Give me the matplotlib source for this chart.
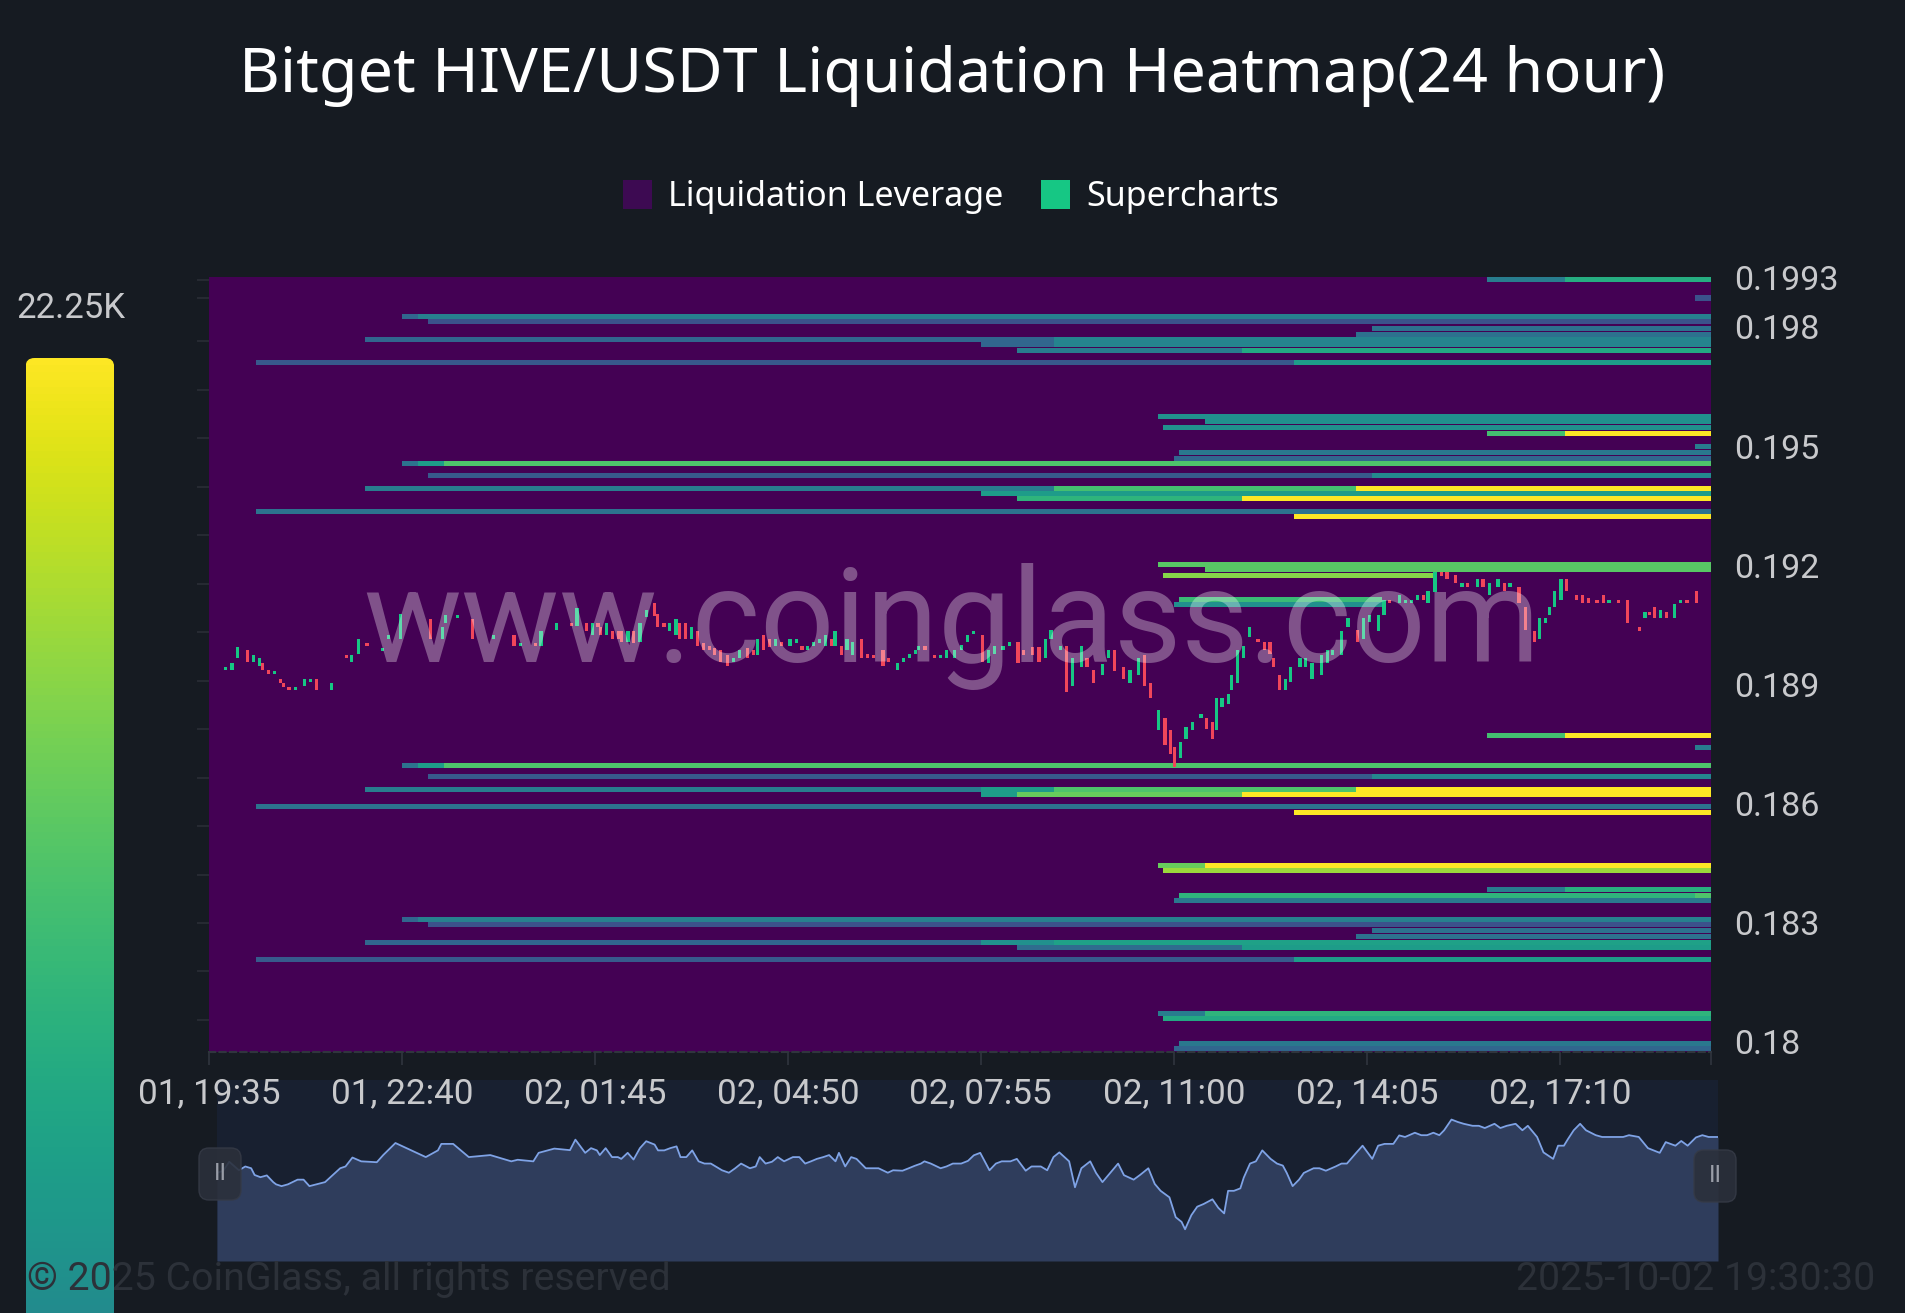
#!/usr/bin/env python3
# Bitget HIVE/USDT liquidation heatmap (24h) - CoinGlass style
import numpy as np
import matplotlib
matplotlib.use("Agg")
import matplotlib.pyplot as plt
from matplotlib.patches import Rectangle, FancyBboxPatch
from matplotlib.transforms import IdentityTransform
from matplotlib.colors import Normalize

W, H = 1905, 1313
BG = "#161b22"
TXT = "#c8c9cc"
UP, DOWN = "#16c784", "#f0465a"

# ===== data =====
VMAX_K = 22.25
y_ticks = [0.180, 0.183, 0.186, 0.189, 0.192, 0.195, 0.198]
y_top, y_bottom = 0.19926, 0.17973
left_ticks = [0.19919, 0.19874, 0.19764, 0.19642, 0.19520, 0.19397, 0.19275,
              0.19153, 0.19031, 0.18909, 0.18787, 0.18664, 0.18542, 0.18420,
              0.18298, 0.18176, 0.18053]
x_ticks = [0, 185, 370, 555, 740, 925, 1110, 1295, 1440]   # minutes from 01, 19:35
x_labels = ["01, 19:35", "01, 22:40", "02, 01:45", "02, 04:50", "02, 07:55",
            "02, 11:00", "02, 14:05", "02, 17:10", ""]

# liquidation bands: price level, start / end minute, value (K)
seg_price = [0.19919, 0.19919, 0.19873, 0.19826, 0.19826, 0.19813, 0.19796, 0.19781,
             0.19768, 0.19768, 0.19755, 0.19755, 0.19740, 0.19740, 0.19710, 0.19710,
             0.19575, 0.19561, 0.19547, 0.19531, 0.19531, 0.19498, 0.19484, 0.19469,
             0.19456, 0.19456, 0.19456, 0.19426, 0.19426, 0.19394, 0.19394, 0.19394,
             0.19381, 0.19368, 0.19368, 0.19336, 0.19322,
             0.19202, 0.19188, 0.19173, 0.19114, 0.19101,
             0.18770, 0.18770, 0.18741, 0.18696, 0.18696, 0.18696, 0.18667, 0.18667,
             0.18635, 0.18635, 0.18635, 0.18635, 0.18622, 0.18622, 0.18622, 0.18592,
             0.18577,
             0.18444, 0.18444, 0.18431, 0.18382, 0.18382, 0.18368, 0.18368, 0.18355,
             0.18307, 0.18307, 0.18294, 0.18280, 0.18263, 0.18249, 0.18249, 0.18249,
             0.18236, 0.18236, 0.18205, 0.18205,
             0.18070, 0.18070, 0.18058, 0.17995, 0.17981]
seg_t0 = [1225, 1300, 1425, 185, 200, 210, 1115, 1100,
          150, 810, 740, 810, 775, 990, 45, 1040,
          910, 955, 915, 1225, 1300, 1425, 930, 925,
          185, 200, 225, 210, 1115, 150, 810, 1100,
          740, 775, 990, 45, 1040,
          910, 955, 915, 930, 925,
          1225, 1300, 1425, 185, 200, 225, 210, 1115,
          150, 740, 810, 1100, 740, 775, 990, 45,
          1040,
          910, 955, 915, 1225, 1300, 930, 1425, 925,
          185, 200, 210, 1115, 1100, 150, 740, 810,
          775, 990, 45, 1040,
          910, 955, 915, 930, 925]
seg_t1 = [1300, 1440, 1440, 200, 1440, 1440, 1440, 1440,
          810, 1440, 810, 1440, 990, 1440, 1040, 1440,
          1440, 1440, 1440, 1300, 1440, 1440, 1440, 1440,
          200, 225, 1440, 1115, 1440, 810, 1100, 1440,
          1440, 990, 1440, 1440, 1440,
          1440, 1440, 1175, 1125, 1125,
          1300, 1440, 1440, 200, 225, 1440, 1115, 1440,
          740, 810, 1100, 1440, 775, 990, 1440, 1440,
          1440,
          955, 1440, 1440, 1300, 1440, 1425, 1440, 1440,
          200, 1440, 1440, 1440, 1440, 740, 810, 1440,
          990, 1440, 1040, 1440,
          955, 1440, 1440, 1440, 1440]
seg_val = [9.3, 13.8, 5.6, 7.3, 9.6, 5.6, 8.2, 8.2,
           7.3, 10.0, 7.3, 10.0, 9.3, 13.4, 6.0, 12.2,
           11.1, 11.1, 11.1, 15.6, 22.25, 9.3, 8.9, 7.3,
           8.5, 12.2, 16.0, 6.2, 10.5, 9.3, 15.6, 22.25,
           12.2, 14.5, 22.25, 8.5, 22.25,
           16.5, 16.5, 18.2, 15.1, 11.1,
           15.6, 22.25, 9.3, 8.5, 12.2, 16.0, 6.2, 10.0,
           9.3, 12.2, 16.0, 22.25, 12.2, 17.1, 22.25, 8.5,
           22.25,
           17.1, 22.25, 18.9, 9.3, 14.0, 14.5, 16.0, 8.9,
           7.3, 9.6, 5.6, 8.2, 8.2, 7.3, 11.1, 12.7,
           7.8, 12.2, 6.2, 12.2,
           9.3, 14.5, 13.4, 8.9, 7.3]

# 5m candles: minute, open, close
candle_t = [16.1, 22.0, 27.6, 36.7, 42.7, 48.2, 51.4, 56.9, 62.9, 68.9,
            71.6, 76.7, 82.7, 91.8, 97.4, 102.9, 117.6, 131.8, 136.8, 143.3,
            151.5, 166.2, 172.2, 183.7, 212.2, 223.6, 226.8, 237.9, 252.6, 272.8,
            292.5, 298.5, 313.2, 318.2, 332.9, 347.6, 352.7, 361.9, 367.4, 372.9,
            375.6, 381.1, 387.1, 392.6, 395.8, 401.8, 407.3, 413.3, 419.2, 427.1,
            430.3, 436.2, 441.8, 447.7, 451.4, 456.9, 462.4, 468.4, 473.9, 479.9,
            484.5, 490.4, 496.9, 502.8, 508.3, 516.6, 522.1, 525.8, 531.3, 537.3,
            542.8, 548.7, 557.0, 563.0, 568.5, 574.0, 579.5, 585.5, 591.0, 597.0,
            600.2, 606.1, 611.7, 616.7, 625.4, 631.4, 637.4, 646.1, 651.1, 659.9,
            665.8, 671.4, 677.3, 680.5, 686.5, 695.7, 701.2, 707.2, 715.0,
            721.4, 726.9, 732.9, 741.6, 747.6, 753.1, 761.3, 767.3, 775.6, 781.1,
            789.8, 795.8, 801.7, 807.2, 816.4, 821.9, 827.9, 836.2, 841.7, 847.7,
            856.4, 862.4, 867.9, 877.0, 883.0, 890.8, 896.8, 902.3, 910.6, 916.5,
            922.0, 925.3, 931.2, 936.7, 942.7, 951.0, 956.5, 962.0, 965.7, 971.2,
            977.2, 980.4, 986.3, 991.8, 997.8, 1005.6, 1011.6, 1017.1, 1020.8, 1026.3,
            1032.3, 1036.8, 1046.0, 1051.5, 1057.5, 1066.7, 1072.2, 1077.3, 1086.0, 1092.0,
            1101.1, 1106.6, 1112.6, 1120.9, 1126.4, 1131.9, 1141.1, 1147.1, 1152.6, 1158.5,
            1164.1, 1168.6, 1175.5, 1181.5, 1187.0, 1195.3, 1201.2, 1206.8, 1215.9, 1221.4,
            1227.4, 1235.7, 1242.1, 1247.2, 1255.9, 1261.9, 1271.0, 1275.6, 1281.1, 1284.8,
            1290.3, 1296.3, 1301.8, 1311.0, 1317.0, 1322.9, 1330.7, 1336.7, 1342.2, 1351.4,
            1360.0, 1371.1, 1376.7, 1381.2, 1385.8, 1391.3, 1397.3, 1405.1, 1411.1, 1417.0,
            1425.8]
candle_open = [.18935, .18935, .18965, .18986, .18955, .18945, .18954, .18935, .18925, .18914,
               .18903, .18893, .18885, .18895, .18906, .18914, .18885, .18973, .18956, .18976,
               .19004, .18984, .19013, .19015, .19063, .19015, .19055, .19066, .19063, .19015,
               .19024, .18996, .19003, .18996, .19036, .19055, .19046, .19055, .19024, .19055,
               .19045, .19024, .19034, .19034, .19034, .19007, .19034, .19007, .19070, .19105,
               .19078, .19055, .19034, .19024, .19055, .19055, .19015, .19034, .19004, .18996,
               .18992, .18986, .18973, .18956, .18965, .18992, .18986, .18973, .19024, .19015,
               .18996, .19007, .18996, .19004, .18996, .18986, .18996, .19004, .18996, .19015,
               .18996, .18996, .18986, .18973, .19015, .18976, .18973, .18986, .18965, .18935,
               .18956, .18965, .18976, .18986, .18996, .18973, .18965, .18965, .18965,
               .18986, .19007, .19026, .19023, .18954, .18977, .18986, .18996, .19007, .18986,
               .18994, .18994, .18965, .19015, .18986, .18996, .18895, .18944, .18965, .18935,
               .18923, .18965, .18986, .18944, .18903, .18923, .18973, .18903, .18784, .18814,
               .18784, .18742, .18713, .18763, .18784, .18814, .18814, .18805, .18784, .18843,
               .18851, .18885, .18903, .18965, .19019, .19015, .19007, .19007, .18965, .18923,
               .18885, .18906, .18944, .18944, .18914, .18923, .18954, .18973, .18973, .19045,
               .19036, .19015, .19057, .19034, .19074, .19113, .19105, .19105, .19105, .19113,
               .19124, .19105, .19133, .19183, .19183, .19175, .19145, .19155, .19145, .19164,
               .19124, .19145, .19155, .19145, .19145, .19095, .19034, .19015, .19055, .19074,
               .19095, .19113, .19164, .19124, .19124, .19116, .19113, .19124, .19105, .19113,
               .19113, .19045, .19066, .19082, .19095, .19066, .19082, .19066, .19105, .19113,
               .19135]
candle_close = [.18944, .18954, .18994, .18956, .18973, .18965, .18935, .18925, .18933, .18903,
                .18893, .18885, .18893, .18914, .18914, .18885, .18903, .18965, .18973, .19013,
                .18996, .18992, .19024, .19078, .19015, .19045, .19074, .19074, .19015, .19024,
                .18996, .19003, .18996, .19034, .19053, .19046, .19093, .19034, .19055, .19045,
                .19024, .19055, .19015, .19015, .19007, .19034, .19004, .19055, .19086, .19071,
                .19045, .19045, .19055, .19063, .19015, .19015, .19045, .18996, .18986, .18986,
                .18973, .18956, .18945, .18965, .18986, .18965, .18973, .19015, .18986, .18994,
                .19015, .18996, .19015, .19015, .18986, .18996, .19007, .19015, .19024, .18996,
                .19034, .18973, .19015, .19007, .18965, .18965, .18965, .18945, .18956, .18954,
                .18965, .18976, .18986, .18996, .18986, .18965, .18973, .18986, .18986,
                .18998, .19023, .19034, .18956, .18986, .18996, .18996, .19007, .18954, .18973,
                .18973, .18956, .19015, .19036, .18996, .18880, .18965, .18996, .18944, .18903,
                .18952, .18986, .18934, .18914, .18935, .18965, .18895, .18864, .18835, .18746,
                .18725, .18692, .18755, .18793, .18805, .18826, .18788, .18763, .18864, .18864,
                .18875, .18923, .18986, .18996, .19045, .19007, .18986, .18977, .18944, .18885,
                .18914, .18944, .18965, .18965, .18954, .18973, .18986, .18986, .19034, .19066,
                .19007, .19066, .19074, .19074, .19112, .19105, .19124, .19113, .19113, .19124,
                .19113, .19135, .19183, .19172, .19164, .19155, .19155, .19145, .19164, .19145,
                .19155, .19164, .19135, .19155, .19105, .19036, .19007, .19066, .19066, .19095,
                .19135, .19164, .19135, .19113, .19105, .19105, .19105, .19105, .19113, .19105,
                .19055, .19034, .19082, .19074, .19066, .19087, .19066, .19103, .19113, .19105,
                .19105]

# ===== figure =====
plt.rcParams["font.family"] = ["Roboto", "DejaVu Sans"]
fig = plt.figure(figsize=(W / 100, H / 100), dpi=100, facecolor=BG)


def fx(x):
    return x / W


def fy(y):
    return 1 - y / H


cmap = plt.get_cmap("viridis")
norm = Normalize(0, VMAX_K)

# main heatmap axes (px: 209..1711, 277..1052)
ax = fig.add_axes([fx(209), fy(1052), (1711 - 209) / W, (1052 - 277) / H])
ax.set_zorder(2)
ax.set_facecolor(cmap(0.0))
ax.set_xlim(0, 1440)
ax.set_ylim(y_bottom, y_top)

p = np.array(seg_price)
t0 = np.array(seg_t0)
t1 = np.array(seg_t1)
v = np.array(seg_val)
ax.barh(p, t1 - t0, left=t0, height=0.000128, color=cmap(norm(v)),
        linewidth=0, zorder=2)

# candles
ct = np.array(candle_t)
co = np.array(candle_open)
cc = np.array(candle_close)
up = cc >= co
body = np.maximum(np.abs(cc - co), 0.00006)
ax.bar(ct, body, bottom=np.minimum(co, cc), width=3.1,
       color=np.where(up, UP, DOWN), linewidth=0, zorder=3)

# watermark
ax.text(0.4947, 0.503, "www.coinglass.com", transform=ax.transAxes,
        ha="center", va="baseline", fontsize=94, color="white", alpha=0.32,
        zorder=4)

for s in ("top", "right", "left"):
    ax.spines[s].set_visible(False)
ax.spines["bottom"].set_color("#30353e")
ax.spines["bottom"].set_linestyle((0, (3, 2)))
ax.spines["bottom"].set_linewidth(1.5)

ax.set_xticks(x_ticks)
ax.set_xticklabels(x_labels)
ax.tick_params(axis="x", length=9, width=1.2, color="#30353e", pad=9,
               labelsize=25.3, labelcolor=TXT)
ax.set_yticks(y_ticks + [y_top])
ax.set_yticklabels([f"{t:g}" for t in y_ticks] + ["0.1993"])
ax.tick_params(axis="y", which="major", left=False, right=True, labelleft=False,
               labelright=True, length=0, pad=17, labelsize=24.5, labelcolor=TXT)
ax.set_yticks(left_ticks, minor=True)
ax.tick_params(axis="y", which="minor", left=True, right=False, length=9,
               width=1.5, color="#262a32")

# navigator (px: 217..1718, 1080..1261)
nav = fig.add_axes([fx(217), fy(1261), (1718 - 217) / W, (1261 - 1080) / H])
nav.set_zorder(0)
nav.set_facecolor("#182030")
nav.set_xlim(ct.min(), ct.max())
nav.set_ylim(0.1855, 0.1936)
nav.fill_between(ct, cc, 0.1855, color="#2f3d5c", linewidth=0)
nav.plot(ct, cc, color="#7fa3e6", linewidth=1.3)
nav.set_xticks([])
nav.set_yticks([])
for s in nav.spines.values():
    s.set_visible(False)

# dataZoom handles
for cx, cy in [(220, 1174), (1715, 1176)]:
    h = FancyBboxPatch((cx - 21, H - cy - 26), 42, 52,
                       boxstyle="round,pad=0,rounding_size=10",
                       transform=IdentityTransform(), facecolor="#2b303b",
                       edgecolor="#353a46", linewidth=1, alpha=0.9, zorder=10)
    fig.add_artist(h)
    fig.text(fx(cx), fy(cy), "II", ha="center", va="center", fontsize=17,
             color="#9a9ea8", zorder=11)

# colour bar (rounded top, runs off the bottom of the figure)
cb_top, cb_len = 358, 1837
cax = fig.add_axes([fx(25.5), fy(cb_top + cb_len), 88.7 / W, cb_len / H])
cax.set_xlim(0, 88.7)
cax.set_ylim(0, cb_len)
grad = np.linspace(0, 1, 512).reshape(-1, 1)
im = cax.imshow(grad, cmap=cmap, aspect="auto", origin="lower",
                extent=[0, 88.7, 0, cb_len])
clip = FancyBboxPatch((0, 0), 88.7, cb_len, boxstyle="round,pad=0,rounding_size=9",
                      transform=cax.transData, facecolor="none", edgecolor="none")
cax.add_patch(clip)
im.set_clip_path(clip)
cax.axis("off")
fig.text(fx(16), fy(309), f"{VMAX_K:g}K", ha="left", va="center", fontsize=25,
         color=TXT)

# title and legend
fig.text(0.5, fy(76), "Bitget HIVE/USDT Liquidation Heatmap(24 hour)",
         ha="center", va="center", fontsize=45.3, color="white", family="Noto Sans")
leg = [(623, "#3d0a52", "Liquidation Leverage"), (1041, UP, "Supercharts")]
for x0, col, lab in leg:
    fig.add_artist(Rectangle((x0, H - 209), 29, 29, transform=IdentityTransform(),
                             facecolor=col, edgecolor="none"))
    fig.text(fx(x0 + 45), fy(197), lab, ha="left", va="center", fontsize=24.5,
             color="white", family="Noto Sans")

# footer
fig.text(fx(27), fy(1280), "\u00a9 2025 CoinGlass, all rights reserved",
         ha="left", va="center", fontsize=28.3, color="#2c3139")
fig.text(fx(1875), fy(1280), "2025-10-02 19:30:30", ha="right", va="center",
         fontsize=28.3, color="#2c3139")

fig.savefig("out.png", dpi=100, facecolor=BG)
